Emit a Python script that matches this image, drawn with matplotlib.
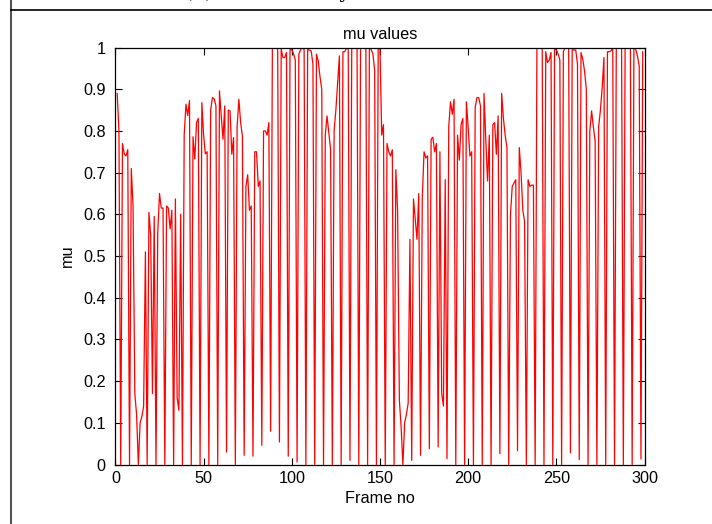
import matplotlib
matplotlib.use("Agg")
import matplotlib.pyplot as plt
from matplotlib.lines import Line2D

# frame numbers and mu values
frames = list(range(1, 300))
mu = [
    0.89, 0.80, 0.0, 0.77, 0.745, 0.74, 0.755, 0.0, 0.71, 0.62,
    0.17, 0.12, 0.0, 0.10, 0.115, 0.14, 0.51, 0.0, 0.605, 0.55,
    0.17, 0.595, 0.0, 0.555, 0.65, 0.615, 0.615, 0.0, 0.62, 0.615,
    0.565, 0.61, 0.0, 0.637, 0.16, 0.13, 0.60, 0.0, 0.79, 0.864,
    0.837, 0.873, 0.0, 0.786, 0.733, 0.82, 0.83, 0.0, 0.868, 0.79,
    0.745, 0.75, 0.0, 0.85, 0.88, 0.877, 0.86, 0.0, 0.896, 0.836,
    0.78, 0.86, 0.03, 0.85, 0.848, 0.744, 0.784, 0.0, 0.81, 0.876,
    0.82, 0.788, 0.022, 0.667, 0.695, 0.61, 0.62, 0.02, 0.75, 0.75,
    0.667, 0.68, 0.046, 0.80, 0.80, 0.79, 0.82, 0.08, 1.0, 1.0,
    1.0, 1.0, 0.054, 0.996, 0.976, 0.976, 0.988, 0.02, 0.995, 0.995,
    0.985, 0.97, 0.006, 0.984, 0.995, 1.0, 0.995, 0.0, 0.995, 0.994,
    0.992, 0.96, 0.0, 0.984, 0.968, 0.93, 0.90, 0.0, 0.79, 0.836,
    0.796, 0.756, 0.0, 0.80, 0.85, 0.916, 0.98, 0.0, 0.99, 0.99,
    0.998, 1.0, 0.01, 1.0, 1.0, 1.0, 1.0, 0.0, 1.0, 1.0,
    1.0, 1.0, 0.0, 1.0, 0.995, 0.985, 0.945, 0.0, 1.0, 1.0,
    0.79, 0.815, 0.0, 0.77, 0.75, 0.74, 0.755, 0.0, 0.707, 0.61,
    0.155, 0.09, 0.0, 0.10, 0.12, 0.147, 0.54, 0.01, 0.637, 0.587,
    0.54, 0.65, 0.022, 0.64, 0.75, 0.735, 0.74, 0.038, 0.78, 0.785,
    0.75, 0.77, 0.042, 0.75, 0.17, 0.14, 0.683, 0.014, 0.81, 0.87,
    0.84, 0.876, 0.0, 0.79, 0.73, 0.815, 0.83, 0.0, 0.87, 0.81,
    0.74, 0.75, 0.0, 0.856, 0.88, 0.88, 0.86, 0.0, 0.89, 0.78,
    0.68, 0.79, 0.0, 0.815, 0.82, 0.744, 0.836, 0.026, 0.89, 0.83,
    0.79, 0.76, 0.0, 0.60, 0.667, 0.675, 0.683, 0.033, 0.76, 0.70,
    0.61, 0.583, 0.0, 0.683, 0.667, 0.67, 0.67, 0.0, 1.0, 1.0,
    1.0, 1.0, 0.0, 0.99, 0.964, 0.97, 0.988, 0.0, 0.995, 0.995,
    0.985, 0.97, 0.0, 0.99, 1.0, 1.0, 1.0, 0.028, 0.996, 0.994,
    0.994, 0.96, 0.012, 0.988, 0.972, 0.944, 0.90, 0.0, 0.80, 0.848,
    0.81, 0.776, 0.0, 0.81, 0.85, 0.904, 0.976, 0.0, 0.99, 0.99,
    0.992, 1.0, 0.0, 1.0, 1.0, 1.0, 1.0, 0.0, 1.0, 1.0,
    1.0, 1.0, 0.0, 1.0, 0.996, 0.98, 0.956, 0.013, 0.99,
]
xticks = [0, 50, 100, 150, 200, 250, 300]
yticks = [0, 0.1, 0.2, 0.3, 0.4, 0.5, 0.6, 0.7, 0.8, 0.9, 1]
ylabels = ["0", "0.1", "0.2", "0.3", "0.4", "0.5", "0.6", "0.7", "0.8", "0.9", "1"]

plt.rcParams['font.family'] = ['Liberation Sans', 'DejaVu Sans']

fig = plt.figure(figsize=(7.12, 5.24), dpi=100)
ax = fig.add_axes([0.1621, 0.1135, 0.7431, 0.7958])

ax.plot(frames, mu, color='red', lw=0.9)

ax.set_xlim(0, 300)
ax.set_ylim(0, 1)
ax.set_xticks(xticks)
ax.set_yticks(yticks)
ax.set_yticklabels(ylabels)
ax.tick_params(direction='in', top=True, right=True, length=5, width=0.8,
               labelsize=11.7)
ax.tick_params(axis='x', pad=5)
ax.tick_params(axis='y', pad=7)
for s in ax.spines.values():
    s.set_linewidth(0.9)

ax.set_title("mu values", fontsize=11.7, pad=6)
ax.set_xlabel("Frame no", fontsize=11.7, labelpad=3)
ax.set_ylabel("mu", fontsize=11.7, labelpad=6)

# page frame and cut caption from the document
fig.add_artist(Line2D([10.5 / 712, 10.5 / 712], [0, 1], transform=fig.transFigure,
                      color='#555555', lw=1.5))
fig.add_artist(Line2D([10.5 / 712, 1], [1 - 9.5 / 524, 1 - 9.5 / 524],
                      transform=fig.transFigure, color='black', lw=1.2))
fig.text(185 / 712, 1 + 1.5 / 524, "(b) Mu values by frame number",
         family='DejaVu Serif', fontsize=14, va='baseline', ha='left')

fig.savefig("out.png", dpi=100)
